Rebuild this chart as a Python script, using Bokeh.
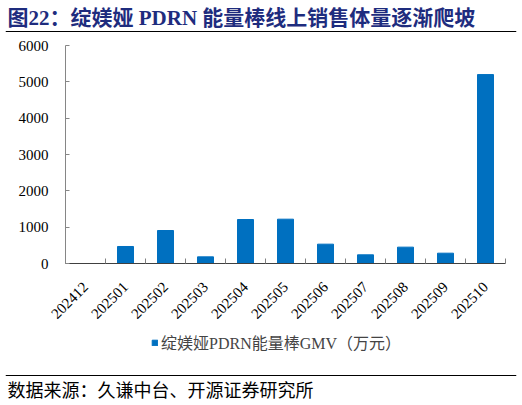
from math import pi

from bokeh.embed import file_html
from bokeh.layouts import column
from bokeh.models import (CustomJSTickFormatter, FixedTicker, Label, Legend,
                          LegendItem, LinearAxis, Range1d, SingleIntervalTicker,
                          Span)
from bokeh.plotting import figure
from bokeh.resources import INLINE

# data
months = ["202412", "202501", "202502", "202503", "202504", "202505",
          "202506", "202507", "202508", "202509", "202510"]
gmv = [0, 468, 908, 183, 1211, 1220, 532, 239, 450, 284, 5200]

title_text = "图22：绽媄娅 PDRN 能量棒线上销售体量逐渐爬坡"
series_name = "绽媄娅PDRN能量棒GMV（万元）"
source_text = "数据来源：久谦中台、开源证券研究所"

SERIF = "Liberation Serif, Noto Sans CJK SC"
BLUE = "#0070C0"
W = 522


def strip(height):
    # a bare figure used for the header and the footer
    f = figure(width=W, height=height, x_range=Range1d(0, 1), y_range=Range1d(0, 1),
               title=None, x_axis_location=None, y_axis_location=None,
               output_backend="svg", toolbar_location=None, frame_align=False,
               min_border_left=5, min_border_right=6,
               min_border_top=0, min_border_bottom=0)
    f.outline_line_color = None
    f.grid.visible = False
    return f


# header: title and rule
head = strip(40)
head.add_layout(Label(x=2, y=22.5, x_units="screen", y_units="screen",
                      text=title_text, text_font=SERIF, text_font_style="bold",
                      text_font_size="21px", text_color="#1E2C7E",
                      text_baseline="middle"))
head.add_layout(Span(location=9, location_units="screen", dimension="width",
                     line_color="black", line_width=1))

# main chart
n = len(months)
centres = [i + 0.5 for i in range(n)]

p = figure(width=W, height=290, x_range=Range1d(0, n), y_range=Range1d(0, 6000),
           x_axis_location=None, output_backend="svg", toolbar_location=None,
           frame_align=False,
           min_border_left=65, min_border_right=17,
           min_border_top=5, min_border_bottom=67)
p.outline_line_color = None
p.grid.grid_line_color = None

p.vbar(x=centres, top=gmv, width=0.4, color=BLUE)

yax = p.yaxis[0]
yax.ticker = SingleIntervalTicker(interval=1000)
yax.minor_tick_line_color = None
yax.major_tick_in = 4
yax.major_tick_out = 0
yax.axis_line_color = "#868686"
yax.major_tick_line_color = "#868686"
yax.major_label_text_font = SERIF
yax.major_label_text_font_size = "15px"
yax.major_label_text_color = "black"
yax.major_label_standoff = 13

# x axis: ticks between categories, labels at the centres
edge_axis = LinearAxis(ticker=FixedTicker(ticks=list(range(n + 1))),
                       formatter=CustomJSTickFormatter(code="return ''"),
                       major_label_text_font_size="0px", major_label_standoff=0,
                       major_tick_in=5, major_tick_out=0,
                       minor_tick_line_color=None,
                       axis_line_color="#404040", major_tick_line_color="#808080")
label_axis = LinearAxis(ticker=FixedTicker(ticks=centres),
                        formatter=CustomJSTickFormatter(
                            args=dict(labels=months),
                            code="return labels[Math.floor(tick)]"),
                        major_tick_line_color=None, axis_line_color=None,
                        minor_tick_line_color=None,
                        major_label_orientation=pi / 4,
                        major_label_standoff=15,
                        major_label_text_font=SERIF,
                        major_label_text_font_size="15px",
                        major_label_text_color="black")
p.add_layout(edge_axis, "below")
p.add_layout(label_axis, "below")

# footer: legend, rule and source note
foot = strip(75)
# hidden copy of the series, only so that the legend can draw its key
key = foot.vbar(x=centres, top=gmv, width=0.4, color=BLUE, visible=False)
foot.add_layout(Legend(items=[LegendItem(label=series_name, renderers=[key])],
                       location=(146, 51), orientation="horizontal",
                       glyph_width=7, glyph_height=7, label_standoff=3,
                       label_text_font=SERIF, label_text_font_size="16px",
                       label_height=16, padding=0, margin=0, spacing=0,
                       inactive_fill_alpha=0, click_policy="none",
                       border_line_color=None, background_fill_alpha=0))
foot.add_layout(Span(location=30, location_units="screen", dimension="width",
                     line_color="black", line_width=1))
foot.add_layout(Label(x=2, y=14.5, x_units="screen", y_units="screen",
                      text=source_text, text_font=SERIF, text_font_size="18px",
                      text_color="black", text_baseline="middle"))

page = column(head, p, foot, spacing=0)
open("out.html", "w").write(file_html(page, INLINE))
